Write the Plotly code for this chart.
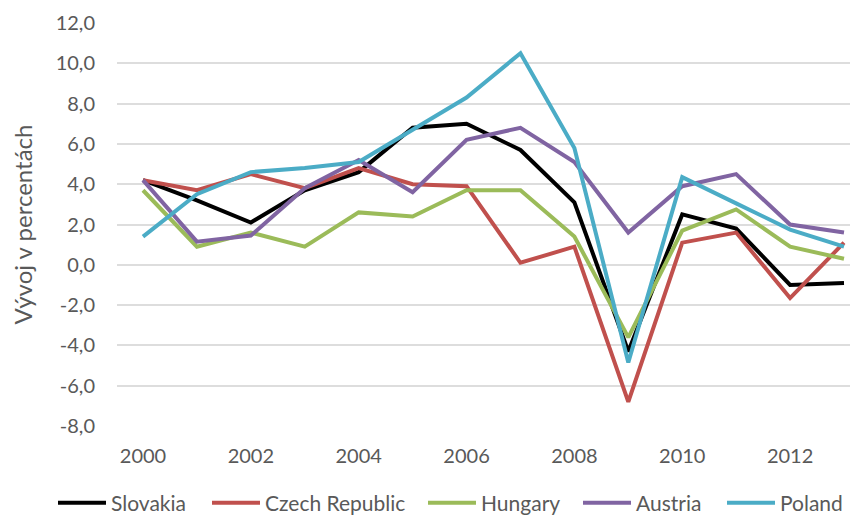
import plotly.graph_objects as go

years = list(range(2000, 2014))
slovakia = [4.2, 3.2, 2.1, 3.7, 4.6, 6.8, 7.0, 5.7, 3.1, -4.3, 2.5, 1.8, -1.0, -0.9]
czech = [4.2, 3.7, 4.5, 3.8, 4.8, 4.0, 3.9, 0.1, 0.9, -6.8, 1.1, 1.6, -1.65, 1.1]
hungary = [3.7, 0.9, 1.6, 0.9, 2.6, 2.4, 3.7, 3.7, 1.4, -3.6, 1.7, 2.75, 0.9, 0.3]
austria = [4.2, 1.15, 1.45, 3.8, 5.2, 3.6, 6.2, 6.8, 5.1, 1.6, 3.9, 4.5, 2.0, 1.6]
poland = [1.4, 3.5, 4.6, 4.8, 5.1, 6.7, 8.3, 10.5, 5.8, -4.85, 4.35, 3.05, 1.75, 0.9]

series_names = ["Slovakia", "Czech Republic", "Hungary", "Austria", "Poland"]
series_values = [slovakia, czech, hungary, austria, poland]
colors = ["#000000", "#C0504D", "#9BBB59", "#8064A2", "#4BACC6"]

y_ticks = [-8, -6, -4, -2, 0, 2, 4, 6, 8, 10, 12]
y_tick_labels = [f"{v:.1f}".replace(".", ",") for v in y_ticks]
x_ticks = [2000, 2002, 2004, 2006, 2008, 2010, 2012]

FONT = "Lato, 'Open Sans', sans-serif"
GREY = "#595959"
W, H = 858, 518
PAGE_OFFSET = 8  # the page body adds an 8px margin around the figure

# legend entry left edges (screen px) so that each label sits where the reference puts it
legend_left_px = [53, 207, 423, 578, 722]
legend_keys = ["legend", "legend2", "legend3", "legend4", "legend5"]

fig = go.Figure()
for name, vals, col, key in zip(series_names, series_values, colors, legend_keys):
    fig.add_trace(go.Scatter(x=years, y=vals, name=name, mode="lines",
                             line=dict(color=col, width=4), legend=key))

layout_legends = {}
for key, lx in zip(legend_keys, legend_left_px):
    layout_legends[key] = dict(
        orientation="h", xref="container", yref="container",
        x=(lx - PAGE_OFFSET) / W, xanchor="left",
        y=1 - (503 - PAGE_OFFSET) / H, yanchor="middle",
        font=dict(family=FONT, size=21, color=GREY), itemwidth=48,
        bgcolor="rgba(0,0,0,0)", borderwidth=0)

fig.update_layout(
    width=W, height=H,
    margin=dict(l=117 - PAGE_OFFSET, r=0, t=23 - PAGE_OFFSET, b=H - 426 + PAGE_OFFSET),
    paper_bgcolor="white", plot_bgcolor="white",
    font=dict(family=FONT, size=20, color=GREY),
    showlegend=True,
    xaxis=dict(range=[1999.518, 2013.408], tickmode="array", tickvals=x_ticks,
               showgrid=False, zeroline=False, showline=False, ticks="",
               automargin=False, ticklabelstandoff=16,
               tickfont=dict(size=20, color=GREY)),
    yaxis=dict(range=[-8, 12], tickmode="array", tickvals=y_ticks, ticktext=y_tick_labels,
               showgrid=True, gridcolor="#DDDDDD", gridwidth=1.5, zeroline=False,
               showline=False, ticks="", ticklabelstandoff=21, automargin=False,
               tickfont=dict(size=20, color=GREY),
               title=dict(text="Vývoj v percentách", font=dict(size=24, color=GREY), standoff=21)),
    **layout_legends,
)

fig.write_html("out.html")
